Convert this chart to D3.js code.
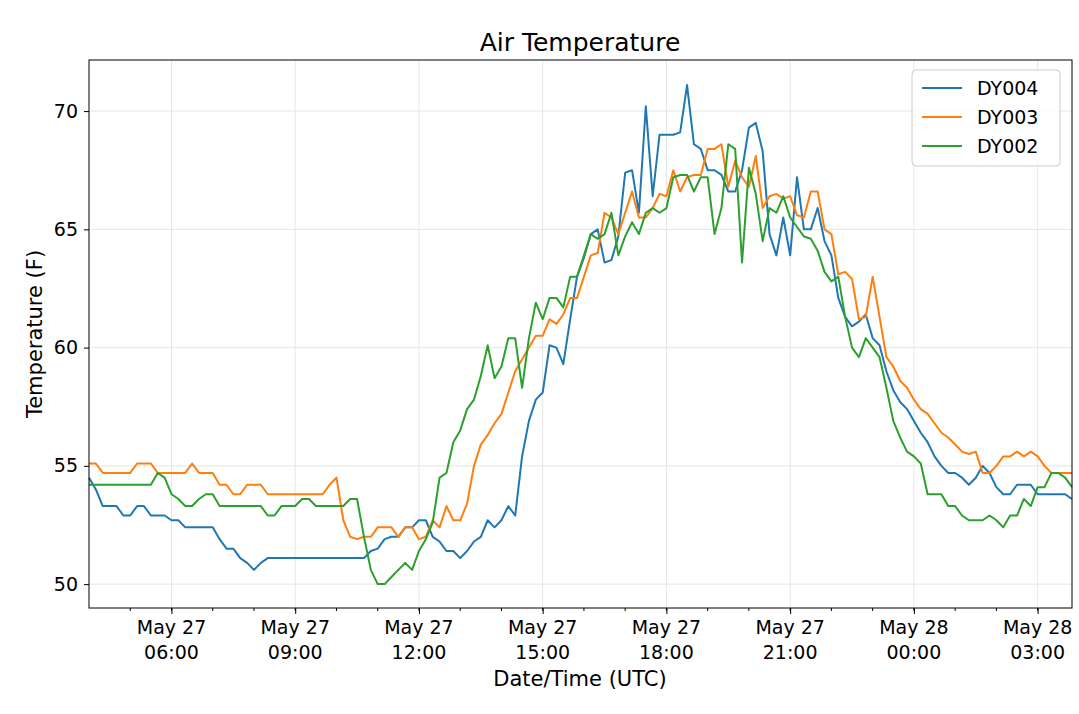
<!DOCTYPE html>
<html><head><meta charset="utf-8">
<script src="https://cdn.jsdelivr.net/npm/d3@7"></script>
<style>body{margin:0;background:#fff;font-family:"DejaVu Sans",sans-serif;}</style>
</head><body><svg id="c" width="1079" height="714"></svg>
<script>
const startTime = "2019-05-27T04:00:00Z";
const stepMinutes = 10;
const seriesNames = ["DY004","DY003","DY002"];
const seriesColors = ["#1f77b4","#ff7f0e","#2ca02c"];
const dy004 = [54.5,54.0,53.3,53.3,53.3,52.9,52.9,53.3,53.3,52.9,52.9,52.9,52.7,52.7,52.4,52.4,52.4,52.4,52.4,51.9,51.5,51.5,51.1,50.9,50.6,50.9,51.1,
51.1,51.1,51.1,51.1,51.1,51.1,51.1,51.1,51.1,51.1,51.1,51.1,51.1,51.1,
51.4,51.5,51.9,52.0,52.0,52.4,52.4,52.7,52.7,52.0,51.8,51.4,51.4,51.1,51.4,51.8,52.0,52.7,52.4,52.7,53.3,52.9,55.4,56.9,57.8,58.1,60.1,60.0,59.3,61.2,63.0,
63.8,64.8,65.0,63.6,63.7,64.7,67.4,67.5,65.7,70.2,66.4,69.0,69.0,69.0,69.1,71.1,68.6,68.4,67.5,67.5,67.3,66.6,66.6,67.5,69.3,69.5,68.3,64.8,63.9,65.5,63.9,67.2,65.0,65.0,65.9,64.5,63.9,
62.1,61.3,60.9,61.1,61.4,60.4,60.1,59.0,58.2,57.7,57.4,56.9,56.4,56.0,55.4,55.0,54.7,54.7,54.5,54.2,54.5,55.0,54.7,54.1,53.8,53.8,54.2,54.2,54.2,53.8,53.8,53.8,53.8,53.8,53.6];
const dy003 = [55.1,55.1,54.7,54.7,54.7,54.7,54.7,55.1,55.1,55.1,54.7,54.7,54.7,54.7,54.7,55.1,54.7,54.7,54.7,54.2,54.2,53.8,53.8,54.2,54.2,54.2,53.8,
53.8,53.8,53.8,53.8,53.8,53.8,53.8,53.8,54.2,54.5,52.7,
52.0,51.9,52.0,52.0,52.4,52.4,52.4,52.0,52.4,52.4,51.9,52.0,52.7,52.4,53.3,52.7,52.7,53.4,55.0,55.9,56.3,56.8,57.2,58.1,59.0,59.5,60.0,60.5,60.5,61.2,61.0,61.4,62.1,62.1,
63.0,63.9,64.0,65.7,65.5,64.8,65.7,66.6,65.5,65.5,65.9,66.5,66.4,67.5,66.6,67.2,67.3,67.3,68.4,68.4,68.6,66.8,67.9,67.2,66.8,68.1,65.9,66.4,66.5,66.3,66.4,65.6,65.5,66.6,66.6,65.0,64.8,
63.1,63.2,62.9,61.2,61.3,63.0,61.3,59.6,59.2,58.6,58.3,57.8,57.4,57.2,56.8,56.4,56.2,55.9,55.6,55.5,55.6,54.7,54.7,55.0,55.4,55.4,55.6,55.4,55.6,55.4,55.0,54.7,54.7,54.7,54.7];
const dy002 = [54.2,54.2,54.2,54.2,54.2,54.2,54.2,54.2,54.2,54.2,54.7,54.5,53.8,53.6,53.3,53.3,53.6,53.8,53.8,
53.3,53.3,53.3,53.3,53.3,53.3,53.3,52.9,52.9,53.3,53.3,53.3,53.6,53.6,53.3,53.3,53.3,53.3,53.3,
53.6,53.6,52.0,50.6,50.0,50.0,50.3,50.6,50.9,50.6,51.4,51.9,52.6,54.5,54.7,56.0,56.5,57.4,57.8,58.8,60.1,58.7,59.2,60.4,60.4,58.3,60.4,61.9,61.2,62.1,62.1,61.7,63.0,63.0,
63.9,64.8,64.6,64.8,65.7,63.9,64.7,65.3,64.8,65.7,65.9,65.7,65.9,67.2,67.3,67.3,66.6,67.2,67.2,64.8,65.9,68.6,68.4,63.6,67.6,66.5,64.5,65.9,65.7,66.4,65.5,65.1,64.7,64.6,64.1,63.2,62.8,63.0,
61.3,60.0,59.6,60.4,60.0,59.6,58.3,56.9,56.2,55.6,55.4,55.1,53.8,53.8,53.8,53.3,53.3,52.9,52.7,52.7,52.7,52.9,52.7,52.4,52.9,52.9,53.6,53.3,54.1,54.1,54.7,54.7,54.5,54.1];
const yTicks = [50,55,60,65,70];
const seriesValues = [dy004, dy003, dy002];

const svg = d3.select("#c");
const m = {l:89, r:1072, t:60, b:608};
const t0 = new Date(startTime);
const times = dy004.map((_, i) => new Date(t0.getTime() + i*stepMinutes*60000));
const x = d3.scaleUtc().domain([times[0], times[times.length-1]]).range([m.l, m.r]);
const y = d3.scaleLinear().domain([48.99, 72.16]).range([m.b, m.t]);

const majorTimes = d3.utcHour.every(3).range(times[0], times[times.length-1]).filter(d => d.getUTCHours() % 3 === 0 && d > times[0]);
svg.append("g").selectAll("line").data(majorTimes).join("line")
  .attr("x1", d=>x(d)).attr("x2", d=>x(d)).attr("y1", m.t).attr("y2", m.b)
  .attr("stroke","#e6e6e6").attr("stroke-width",1);
svg.append("g").selectAll("line").data(yTicks).join("line")
  .attr("x1", m.l).attr("x2", m.r).attr("y1", d=>y(d)).attr("y2", d=>y(d))
  .attr("stroke","#e6e6e6").attr("stroke-width",1);

const line = d3.line().x((d,i)=>x(times[i])).y(d=>y(d));
seriesValues.forEach((vals, k) => {
  svg.append("path").datum(vals).attr("d", line).attr("fill","none")
    .attr("stroke", seriesColors[k]).attr("stroke-width", 2).attr("stroke-linejoin","round");
});

svg.append("rect").attr("x", m.l).attr("y", m.t).attr("width", m.r-m.l).attr("height", m.b-m.t)
  .attr("fill","none").attr("stroke","#000").attr("stroke-width",1);

const ya = svg.append("g").attr("transform",`translate(${m.l},0)`)
  .call(d3.axisLeft(y).tickValues(yTicks).tickSize(5).tickPadding(6));
ya.select(".domain").remove();
ya.selectAll("text").attr("font-size",19).attr("font-family","DejaVu Sans").attr("fill","#000");

const minorTimes = d3.utcHour.range(times[0], times[times.length-1]).filter(d=>d>times[0]);
svg.append("g").selectAll("line").data(minorTimes).join("line")
  .attr("x1", d=>x(d)).attr("x2", d=>x(d)).attr("y1", m.b).attr("y2", m.b+3).attr("stroke","#000");
const xa = svg.append("g").attr("transform",`translate(0,${m.b})`)
  .call(d3.axisBottom(x).tickValues(majorTimes).tickSize(6).tickFormat(""));
xa.select(".domain").remove();
const fmtD = d3.utcFormat("%b %d"), fmtT = d3.utcFormat("%H:%M");
const lbl = svg.append("g").selectAll("text").data(majorTimes).join("text")
  .attr("x", d=>x(d)).attr("text-anchor","middle").attr("font-size",19).attr("fill","#000");
lbl.append("tspan").attr("x", d=>x(d)).attr("y", 634).text(d=>fmtD(d));
lbl.append("tspan").attr("x", d=>x(d)).attr("y", 659).text(d=>fmtT(d));

svg.append("text").attr("x", 580).attr("y", 51).attr("text-anchor","middle").attr("font-size",25).text("Air Temperature");
svg.append("text").attr("x", 580).attr("y", 686).attr("text-anchor","middle").attr("font-size",21).text("Date/Time (UTC)");
svg.append("text").attr("transform","translate(42,334) rotate(-90)").attr("text-anchor","middle").attr("font-size",21).text("Temperature (F)");

const lg = svg.append("g");
lg.append("rect").attr("x",912).attr("y",70).attr("width",148).attr("height",96).attr("rx",4)
  .attr("fill","#fff").attr("fill-opacity",0.8).attr("stroke","#ccc");
seriesNames.forEach((n,k)=>{
  const yy = 88 + k*29;
  lg.append("line").attr("x1",922).attr("x2",962).attr("y1",yy).attr("y2",yy).attr("stroke",seriesColors[k]).attr("stroke-width",2);
  lg.append("text").attr("x",977).attr("y",yy+7).attr("font-size",19).text(n);
});
</script></body></html>
